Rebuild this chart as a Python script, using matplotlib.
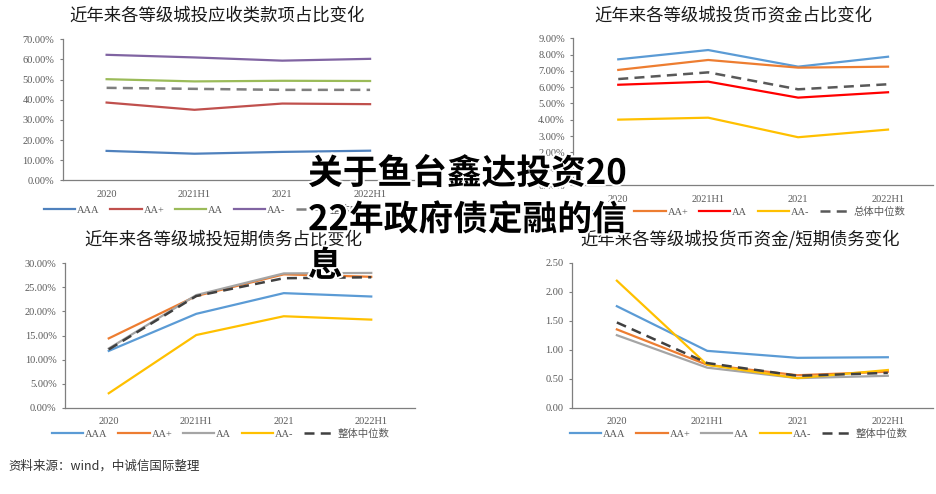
import numpy as np
import matplotlib
matplotlib.use('Agg')
import matplotlib.pyplot as plt
import matplotlib.patheffects as pe
from matplotlib.ticker import FuncFormatter

plt.rcParams['font.family'] = ['Liberation Serif', 'Noto Sans CJK SC', 'DejaVu Sans']

periods = ['2020', '2021H1', '2021', '2022H1']
grades = ['AAA', 'AA+', 'AA', 'AA-']

# 应收类款项占比 (%)
recv_aaa = [14.6, 13.2, 14.1, 14.7]
recv_aap = [38.6, 35.0, 38.1, 37.8]
recv_aa = [50.2, 49.1, 49.4, 49.3]
recv_aam = [62.3, 61.0, 59.4, 60.3]
recv_med = [45.9, 45.4, 44.9, 44.9]

# 货币资金占比 (%)
cash_aaa = [7.71, 8.28, 7.26, 7.87]
cash_aap = [7.06, 7.67, 7.20, 7.26]
cash_aa = [6.15, 6.34, 5.36, 5.69]
cash_aam = [4.01, 4.13, 2.93, 3.40]
cash_med = [6.50, 6.91, 5.87, 6.18]

# 短期债务占比 (%)
std_aaa = [11.8, 19.5, 23.8, 23.1]
std_aap = [14.4, 23.2, 27.7, 27.2]
std_aa = [12.3, 23.4, 27.9, 28.0]
std_aam = [3.0, 15.1, 19.0, 18.3]
std_med = [12.1, 23.2, 26.9, 27.1]

# 货币资金/短期债务
ratio_aaa = [1.75, 0.98, 0.86, 0.87]
ratio_aap = [1.35, 0.74, 0.56, 0.62]
ratio_aa = [1.25, 0.69, 0.51, 0.55]
ratio_aam = [2.19, 0.74, 0.51, 0.65]
ratio_med = [1.47, 0.77, 0.55, 0.60]

W, H = 936, 494
fig = plt.figure(figsize=(W / 100, H / 100), dpi=100)
fig.patch.set_facecolor('white')

cjk = ['Noto Sans CJK SC', 'DejaVu Sans']
gray_txt = '#595959'


def box(x0, y0, x1, y1):
    return [x0 / W, 1 - y1 / H, (x1 - x0) / W, (y1 - y0) / H]


def make_panel(rect, title, tpos, series, colors, med_label, med_color, ymax, ystep, fmt, leg_pos):
    ax = fig.add_axes(box(*rect))
    x = np.arange(len(periods))
    handles = []
    for vals, name, c in zip(series[:4], grades, colors):
        h, = ax.plot(x, vals, color=c, lw=1.6, label=name)
        handles.append(h)
    h, = ax.plot(x, series[4], color=med_color, lw=1.8, ls=(0, (4, 2.5)), label=med_label)
    handles.append(h)
    ax.set_xlim(-0.5, 3.5)
    ax.set_ylim(0, ymax)
    ax.set_yticks(np.arange(0, ymax + ystep / 2, ystep))
    ax.yaxis.set_major_formatter(FuncFormatter(fmt))
    ax.set_xticks(x, periods)
    for s in ['top', 'right']:
        ax.spines[s].set_visible(False)
    for s in ['left', 'bottom']:
        ax.spines[s].set_color('#7f7f7f')
        ax.spines[s].set_linewidth(0.9)
    ax.tick_params(axis='y', length=2, color='#7f7f7f', labelsize=7.5, labelcolor=gray_txt, pad=4)
    ax.tick_params(axis='x', length=0, labelsize=7.5, labelcolor=gray_txt, pad=7)
    fig.text(tpos[0] / W, 1 - tpos[1] / H, title, ha='center', va='center',
             fontsize=12.5, color='#1a1a1a', family=cjk)
    leg = ax.legend(handles=handles, loc='center left', ncol=5, frameon=False,
                    bbox_to_anchor=(leg_pos[0] / W, 1 - leg_pos[1] / H),
                    bbox_transform=fig.transFigure, borderaxespad=0, borderpad=0,
                    handlelength=3.0, handletextpad=0.2, columnspacing=1.0,
                    prop={'family': ['Liberation Serif', 'Noto Sans CJK SC'], 'size': 7.5})
    for t in leg.get_texts():
        t.set_color(gray_txt)
    return ax


pct = lambda v, p: f'{v:.2f}%'
num = lambda v, p: f'{v:.2f}'

make_panel((62.7, 39.3, 414, 180.3), '近年来各等级城投应收类款项占比变化', (217, 15),
           [recv_aaa, recv_aap, recv_aa, recv_aam, recv_med],
           ['#4f81bd', '#c0504d', '#9bbb59', '#8064a2'], '整体中位数', '#7f7f7f',
           70, 10, pct, (44, 210))

make_panel((573.3, 38.3, 933, 185), '近年来各等级城投货币资金占比变化', (733, 15),
           [cash_aaa, cash_aap, cash_aa, cash_aam, cash_med],
           ['#5b9bd5', '#ed7d31', '#ff0000', '#ffc000'], '总体中位数', '#595959',
           9, 1, pct, (568, 212))

make_panel((65, 263.3, 415, 407.7), '近年来各等级城投短期债务占比变化', (223, 240),
           [std_aaa, std_aap, std_aa, std_aam, std_med],
           ['#5b9bd5', '#ed7d31', '#a5a5a5', '#ffc000'], '整体中位数', '#404040',
           30, 5, pct, (52, 434))

make_panel((571.7, 262.7, 933, 407.7), '近年来各等级城投货币资金/短期债务变化', (740, 239),
           [ratio_aaa, ratio_aap, ratio_aa, ratio_aam, ratio_med],
           ['#5b9bd5', '#ed7d31', '#a5a5a5', '#ffc000'], '整体中位数', '#404040',
           2.5, 0.5, num, (570, 434))

fig.text(8 / W, 1 - 466 / H, '资料来源：wind，中诚信国际整理', ha='left', va='center',
         fontsize=9, color='#333333', family=cjk)

fig.text(308 / W, 1 - 156 / H, '关于鱼台鑫达投资20\n22年政府债定融的信\n息',
         ha='left', va='top', fontsize=25, fontweight='black', color='black',
         family=cjk, linespacing=1.4,
         path_effects=[pe.withStroke(linewidth=3, foreground='white')])

fig.savefig('out.png', dpi=100, facecolor='white')
